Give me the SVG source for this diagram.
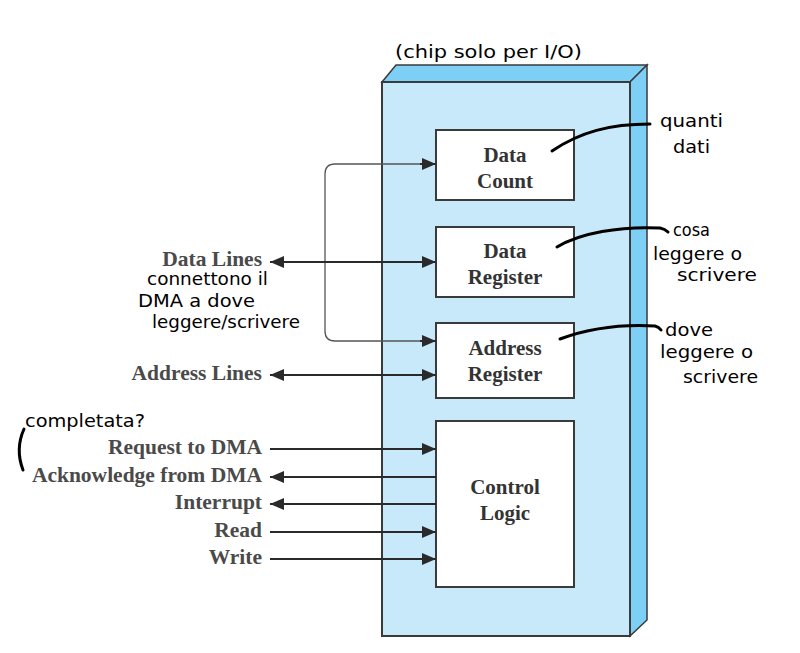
<svg xmlns="http://www.w3.org/2000/svg" width="800" height="653" viewBox="0 0 800 653">
<defs>
<style>
.lbl{font-family:"Liberation Serif","Times New Roman",serif;font-weight:bold;font-size:21.5px;fill:#4a4a4a}
.box{fill:#fff;stroke:#3a3a3a;stroke-width:2}
.btxt{font-family:"Liberation Serif","Times New Roman",serif;font-weight:bold;font-size:21px;fill:#333;text-anchor:middle}
.hw{font-family:"DejaVu Sans","Liberation Sans",sans-serif;font-size:17px;fill:#000}
.ln{stroke:#2a2a2a;stroke-width:2;fill:none}
.thin{stroke:#555;stroke-width:1.3;fill:none}
.ink{stroke:#000;stroke-width:3;fill:none;stroke-linecap:round}
</style>
<marker id="ah" viewBox="0 0 14 12" refX="14" refY="6" markerWidth="14" markerHeight="12" markerUnits="userSpaceOnUse" orient="auto-start-reverse">
<path d="M0,0 L14,6 L0,12 z" fill="#2a2a2a"/>
</marker>
</defs>
<rect width="800" height="653" fill="#fff"/>
<g id="chip">
<polygon points="382,82 396,65 647,65 630,82" fill="#7dcff5" stroke="#3a3a3a" stroke-width="1.5"/>
<polygon points="630,82 647,65 647,620 630,636" fill="#7dcff5" stroke="#3a3a3a" stroke-width="1.5"/>
<rect x="382" y="82" width="248" height="554" fill="#c8e9fa" stroke="#3a3a3a" stroke-width="2"/>
</g>
<g id="data-count"><rect class="box" x="436" y="130" width="138" height="70"/><text class="btxt" x="505" y="162">Data</text><text class="btxt" x="505" y="188">Count</text></g>
<g id="data-register"><rect class="box" x="436" y="227" width="138" height="70"/><text class="btxt" x="505" y="258">Data</text><text class="btxt" x="505" y="284">Register</text></g>
<g id="address-register"><rect class="box" x="436" y="323" width="138" height="75"/><text class="btxt" x="505" y="355">Address</text><text class="btxt" x="505" y="381">Register</text></g>
<g id="control-logic"><rect class="box" x="436" y="421" width="138" height="166"/><text class="btxt" x="505" y="494">Control</text><text class="btxt" x="505" y="520">Logic</text></g>
<g id="labels">
<text class="lbl" x="262" y="266" text-anchor="end">Data Lines</text>
<text class="lbl" x="262" y="380" text-anchor="end">Address Lines</text>
<text class="lbl" x="262" y="454" text-anchor="end">Request to DMA</text>
<text class="lbl" x="262" y="482" text-anchor="end">Acknowledge from DMA</text>
<text class="lbl" x="262" y="509" text-anchor="end">Interrupt</text>
<text class="lbl" x="262" y="537" text-anchor="end">Read</text>
<text class="lbl" x="262" y="564" text-anchor="end">Write</text>
</g>
<g id="connectors">
<path class="thin" d="M436,164 L335,164 Q325,164 325,174 L325,331 Q325,341 335,341 L436,341"/>
<line class="ln" x1="420" y1="164" x2="436" y2="164" marker-end="url(#ah)"/>
<line class="ln" x1="420" y1="341" x2="436" y2="341" marker-end="url(#ah)"/>
<line class="ln" x1="270" y1="262" x2="436" y2="262" marker-start="url(#ah)" marker-end="url(#ah)"/>
<line class="ln" x1="270" y1="375" x2="436" y2="375" marker-start="url(#ah)" marker-end="url(#ah)"/>
<line class="ln" x1="270" y1="449" x2="436" y2="449" marker-end="url(#ah)"/>
<line class="ln" x1="270" y1="477" x2="436" y2="477" marker-start="url(#ah)"/>
<line class="ln" x1="270" y1="504" x2="436" y2="504" marker-start="url(#ah)"/>
<line class="ln" x1="270" y1="532" x2="436" y2="532" marker-end="url(#ah)"/>
<line class="ln" x1="270" y1="559" x2="436" y2="559" marker-end="url(#ah)"/>
</g>
<g id="annotations">
<path class="ink" d="M552,151 C580,132 610,124 650,124"/>
<path class="ink" d="M557,247 C580,233 620,226 660,228 Q665,229 668,232"/>
<path class="ink" d="M560,339 C590,328 620,324 655,326 Q659,327 661,330"/>
<path class="ink" stroke-width="2.5" d="M24,429 Q15,449 23,470"/>
<text class="hw" x="395" y="58" textLength="187" lengthAdjust="spacingAndGlyphs" font-size="21">(chip solo per I/O)</text>
<text class="hw" x="660" y="127" textLength="63" lengthAdjust="spacingAndGlyphs">quanti</text>
<text class="hw" x="673" y="153" textLength="37" lengthAdjust="spacingAndGlyphs">dati</text>
<text class="hw" x="673" y="236" textLength="37" lengthAdjust="spacingAndGlyphs">cosa</text>
<text class="hw" x="653" y="260" textLength="89" lengthAdjust="spacingAndGlyphs">leggere o</text>
<text class="hw" x="677" y="281" textLength="80" lengthAdjust="spacingAndGlyphs">scrivere</text>
<text class="hw" x="665" y="336" textLength="48" lengthAdjust="spacingAndGlyphs">dove</text>
<text class="hw" x="660" y="358" textLength="93" lengthAdjust="spacingAndGlyphs">leggere o</text>
<text class="hw" x="683" y="383" textLength="75" lengthAdjust="spacingAndGlyphs">scrivere</text>
<text class="hw" x="147" y="285" textLength="121" lengthAdjust="spacingAndGlyphs">connettono il</text>
<text class="hw" x="138" y="307" textLength="117" lengthAdjust="spacingAndGlyphs">DMA a dove</text>
<text class="hw" x="152" y="328" textLength="148" lengthAdjust="spacingAndGlyphs">leggere/scrivere</text>
<text class="hw" x="25" y="427" textLength="120" lengthAdjust="spacingAndGlyphs">completata?</text>
</g>
</svg>
